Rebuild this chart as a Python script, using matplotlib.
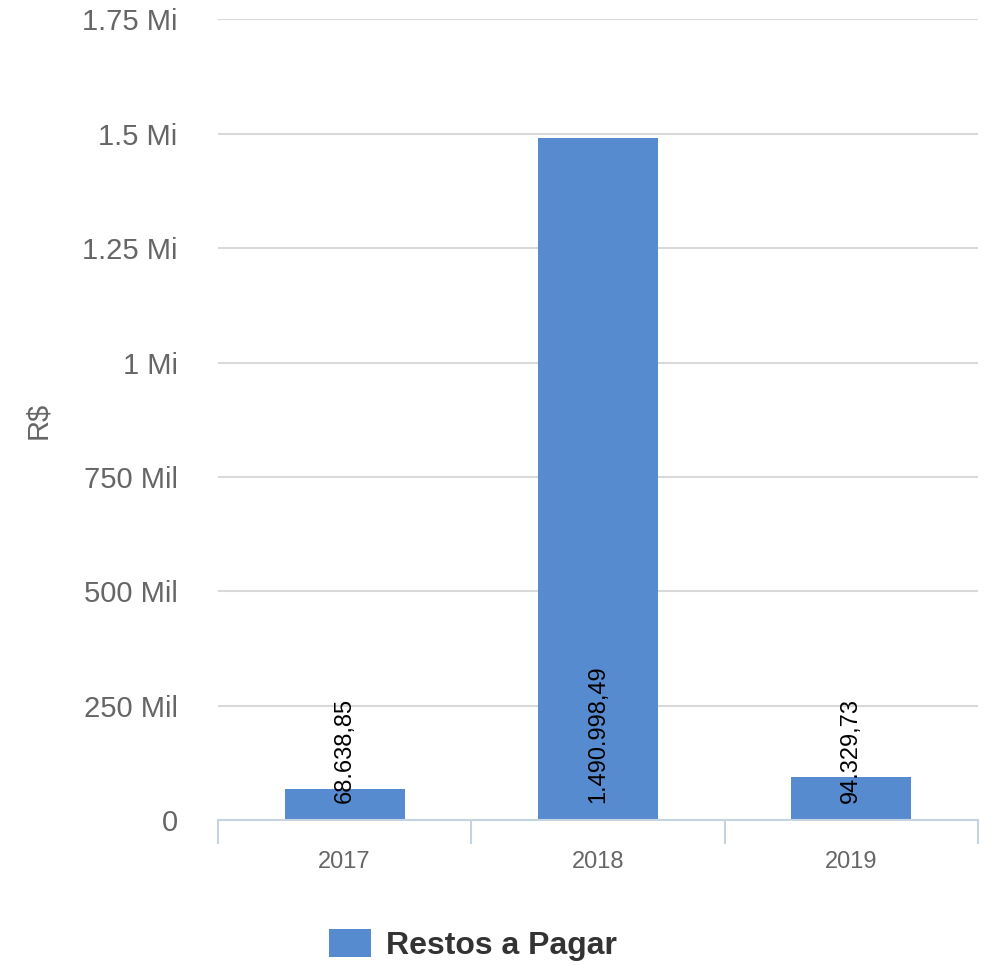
import numpy as np
import matplotlib
matplotlib.use('Agg')
import matplotlib.pyplot as plt
from matplotlib.ticker import FixedLocator

anos = ['2017', '2018', '2019']
valores = [68638.85, 1490998.49, 94329.73]
rotulos = ['68.638,85', '1.490.998,49', '94.329,73']
y_ticks = [0, 250000, 500000, 750000, 1000000, 1250000, 1500000, 1750000]
y_tick_labels = ['0', '250 Mil', '500 Mil', '750 Mil', '1 Mi', '1.25 Mi', '1.5 Mi', '1.75 Mi']

plt.rcParams['font.family'] = ['Liberation Sans', 'DejaVu Sans']

cor_barra = '#578bd0'
cor_eixo = '#c5d3e3'
cinza = '#666666'

fig = plt.figure(figsize=(9.89, 9.65), dpi=100)
ax = fig.add_axes([0.2204, 0.1503, 0.7685, 0.8295])

x = np.arange(len(anos))
bars = ax.bar(x, valores, width=0.474, color=cor_barra, zorder=3, label='Restos a Pagar')

for xi, r in zip(x, rotulos):
    ax.annotate(r, xy=(xi, 0), xytext=(0, 12), textcoords='offset points',
                rotation=90, ha='center', va='bottom', fontsize=17, color='black', zorder=4)

ax.set_xlim(-0.5, 2.5)
ax.set_ylim(0, 1750000)
ax.set_yticks(y_ticks)
ax.set_yticklabels(y_tick_labels)
ax.set_xticks(x)
ax.set_xticklabels(anos)
ax.xaxis.set_minor_locator(FixedLocator([-0.5, 0.5, 1.5, 2.5]))

ax.tick_params(axis='y', length=0, pad=29, labelsize=21, labelcolor=cinza)
ax.tick_params(axis='x', which='major', length=0, pad=22, labelsize=17, labelcolor=cinza)
ax.tick_params(axis='x', which='minor', length=17, width=1.5, color=cor_eixo)

ax.grid(axis='y', color='#d9d9d9', linewidth=1.5, zorder=0)
ax.set_axisbelow(True)
for s in ['top', 'right', 'left']:
    ax.spines[s].set_visible(False)
ax.spines['bottom'].set_color(cor_eixo)
ax.spines['bottom'].set_linewidth(1.5)
ax.spines['bottom'].set_zorder(5)

fig.text(38 / 989, 1 - 420 / 965, 'R$', rotation=90, ha='center', va='center',
         fontsize=21, color=cinza)

leg = fig.legend(handles=[bars], labels=['Restos a Pagar'], loc='center',
                 bbox_to_anchor=(473 / 989, 1 - 945 / 965), frameon=False,
                 handlelength=1.34, handleheight=1.0, handletextpad=0.47,
                 prop={'size': 23, 'weight': 'bold'})
for t in leg.get_texts():
    t.set_color('#333333')

fig.savefig('out.png', dpi=100)
